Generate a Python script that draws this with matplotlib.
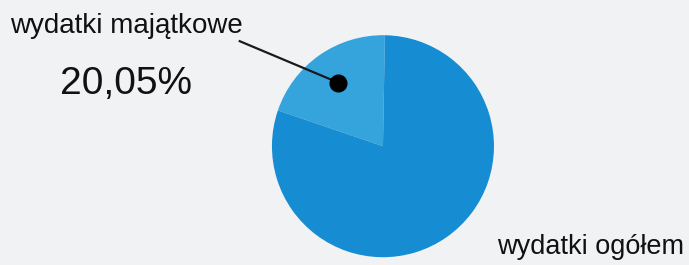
import numpy as np
import matplotlib.pyplot as plt

plt.rcParams['font.family'] = ['Liberation Sans', 'DejaVu Sans']

labels = ['wydatki majątkowe', 'wydatki ogółem']
shares = [20.05, 79.95]
pct_text = '20,05%'

colors = ['#35a3dc', '#168cd3']
bg = '#f1f2f4'

fig = plt.figure(figsize=(6.89, 2.65), dpi=100, facecolor=bg)
ax = fig.add_axes([0, 0, 1, 1])
ax.set_facecolor(bg)

start = 89
wedges, _ = ax.pie(shares, colors=colors, startangle=start, counterclock=True,
                   radius=1.0, center=(0, 0), wedgeprops=dict(linewidth=0))

# map data units so the pie sits where it does in the picture
ax.set_xlim(-3.45, 2.757)
ax.set_ylim(-1.07, 1.317)
ax.axis('off')

# dot inside the small wedge, line out to its label
mid = np.deg2rad(start + shares[0] / 100 * 360 / 2)
px, py = 0.70 * np.cos(mid), 0.70 * np.sin(mid)
ax.plot(px, py, 'o', color='black', markersize=12, zorder=5)
ax.plot([-1.29, px], [0.946, py], color='#1a1a1a', linewidth=1.6, zorder=4)

ax.text(-3.36, 1.018, labels[0], fontsize=20, color='#111111', ha='left', va='baseline')
ax.text(-2.91, 0.468, pct_text, fontsize=28, color='#111111', ha='left', va='baseline')
ax.text(1.027, -0.975, labels[1], fontsize=19.5, color='#111111', ha='left', va='baseline')

fig.savefig('out.png', dpi=100, facecolor=bg)
